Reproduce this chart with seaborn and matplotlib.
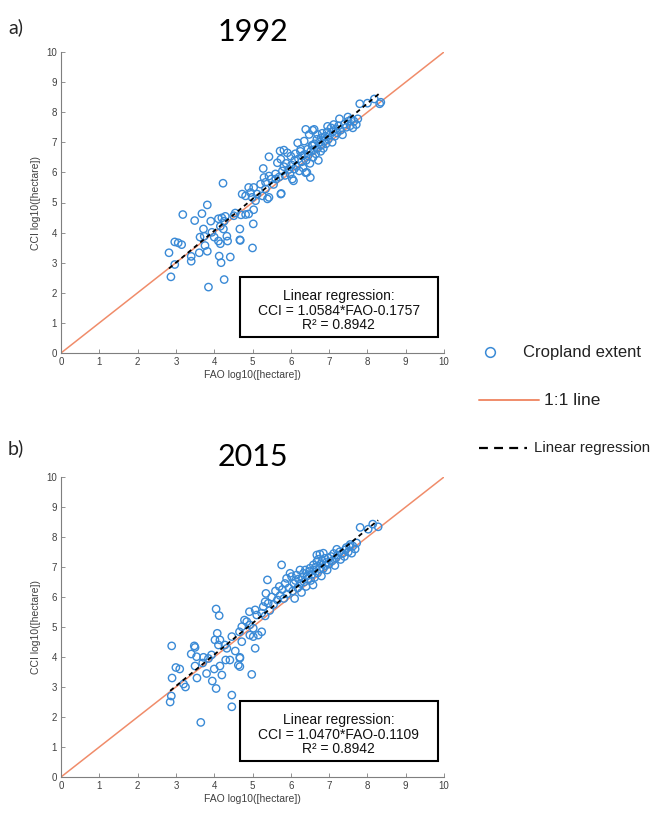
import numpy as np
import pandas as pd
import matplotlib
matplotlib.use("Agg")
import matplotlib.pyplot as plt
from matplotlib.lines import Line2D
from matplotlib.patches import Rectangle
import seaborn as sns

# ---- data: log10 cropland area (hectare), FAO statistics vs CCI land cover ----
fao_1992 = [2.82, 2.87, 2.97, 2.97, 3.06, 3.15, 3.18, 3.40, 3.40, 3.49, 3.61, 3.63, 3.68, 3.72, 3.74,
            3.76, 3.82, 3.82, 3.85, 3.91, 3.94, 4.00, 4.11, 4.11, 4.13, 4.16, 4.16, 4.18, 4.20, 4.23,
            4.24, 4.26, 4.26, 4.29, 4.33, 4.35, 4.42, 4.51, 4.55, 4.67, 4.67, 4.68, 4.70, 4.73, 4.82,
            4.82, 4.90, 4.90, 4.95, 4.99, 5.00, 5.02, 5.03,
            5.03, 5.08, 5.12, 5.21, 5.26, 5.28, 5.30, 5.34, 5.34, 5.39, 5.43, 5.43, 5.43, 5.49, 5.55,
            5.60, 5.61, 5.65, 5.70, 5.72, 5.74, 5.74, 5.75, 5.78, 5.82, 5.82, 5.85, 5.88, 5.91, 5.95,
            5.98,
            6.00, 6.02, 6.04, 6.07, 6.09, 6.10, 6.12, 6.15, 6.18, 6.20, 6.22, 6.25, 6.26, 6.28, 6.30,
            6.32, 6.35, 6.36, 6.39, 6.39, 6.40, 6.42, 6.44, 6.45, 6.48, 6.50, 6.51, 6.52, 6.55, 6.57,
            6.57, 6.58, 6.60, 6.61, 6.62, 6.65, 6.68, 6.70, 6.70, 6.72, 6.75, 6.78, 6.79, 6.80, 6.82,
            6.85, 6.88, 6.90, 6.92, 6.95, 6.96, 6.98,
            7.02, 7.05, 7.08, 7.10, 7.12, 7.15, 7.18, 7.21, 7.25, 7.27, 7.30, 7.35, 7.40, 7.45, 7.49,
            7.50, 7.55, 7.58, 7.62, 7.65, 7.71, 7.75, 7.80, 8.00, 8.18, 8.32, 8.35]
cci_1992 = [3.33, 2.53, 2.94, 3.69, 3.66, 3.60, 4.60, 3.21, 3.05, 4.40, 3.33, 3.85, 4.63, 4.12, 3.88,
            3.57, 3.38, 4.92, 2.19, 4.38, 4.01, 3.85, 3.72, 4.46, 3.22, 3.63, 4.21, 3.00, 4.49, 5.64,
            4.12, 2.44, 4.38, 4.54, 3.88, 3.72, 3.19, 4.56, 4.65, 4.12, 3.76, 3.74, 4.59, 5.28, 4.60,
            5.22, 4.62, 5.50, 5.33, 5.17, 3.49, 4.29, 4.76,
            5.50, 5.06, 5.28, 5.61, 5.22, 6.13, 5.83, 5.67, 5.45, 5.12, 5.17, 5.88, 6.52, 5.78, 5.60,
            5.95, 5.78, 6.32, 5.85, 6.71, 6.44, 5.28, 5.30, 6.05, 6.74, 6.19, 5.90, 6.30, 6.65, 6.10,
            5.95,
            6.54, 6.25, 5.78, 5.72, 6.11, 6.40, 6.62, 6.20, 6.98, 6.45, 6.05, 6.70, 6.77, 6.35, 6.55,
            6.15, 7.04, 6.60, 7.43, 5.99, 6.40, 6.00, 6.77, 6.55, 7.26, 6.30, 5.83, 6.70, 6.90, 6.88,
            7.40, 6.50, 6.75, 7.43, 6.95, 6.62, 7.10, 7.26, 6.80, 6.40, 7.00, 6.70, 7.15, 6.90, 7.30,
            6.80, 7.05, 7.20, 6.95, 7.35, 7.53, 7.10,
            7.25, 7.48, 7.00, 7.35, 7.59, 7.20, 7.45, 7.31, 7.55, 7.78, 7.40, 7.25, 7.60, 7.50, 7.84,
            7.70, 7.55, 7.76, 7.48, 7.70, 7.59, 7.78, 8.28, 8.30, 8.44, 8.28, 8.33]

fao_2015 = [2.85, 2.88, 2.89, 2.90, 3.00, 3.10, 3.20, 3.25, 3.40, 3.48, 3.50, 3.50, 3.54, 3.55, 3.65,
            3.70, 3.72, 3.80, 3.85, 3.93, 3.95, 4.00, 4.02, 4.05, 4.05, 4.08, 4.11, 4.13, 4.15, 4.15,
            4.20, 4.28, 4.30, 4.33, 4.41, 4.46, 4.46, 4.46, 4.55, 4.63, 4.66, 4.67, 4.67, 4.67, 4.72,
            4.72, 4.79, 4.85, 4.92, 4.93, 4.93, 4.98,
            5.02, 5.02, 5.07, 5.07, 5.11, 5.15, 5.24, 5.24, 5.28, 5.33, 5.33, 5.35, 5.39, 5.41, 5.45,
            5.50, 5.55, 5.60, 5.65, 5.70, 5.72, 5.76, 5.78, 5.82, 5.85, 5.89, 5.90, 5.95, 5.98,
            6.02, 6.05, 6.08, 6.10, 6.12, 6.15, 6.18, 6.20, 6.24, 6.25, 6.28, 6.30, 6.33, 6.35, 6.38,
            6.40, 6.42, 6.45, 6.48, 6.50, 6.52, 6.55, 6.58, 6.59, 6.60, 6.62, 6.65, 6.68, 6.68, 6.70,
            6.72, 6.75, 6.76, 6.78, 6.80, 6.82, 6.85, 6.85, 6.89, 6.90, 6.93, 6.95, 6.98,
            7.00, 7.05, 7.08, 7.12, 7.15, 7.18, 7.20, 7.22, 7.28, 7.30, 7.35, 7.40, 7.42, 7.45, 7.50,
            7.53, 7.55, 7.59, 7.62, 7.68, 7.72, 7.81, 8.02, 8.14, 8.28]
cci_2015 = [2.50, 2.70, 4.37, 3.30, 3.65, 3.60, 3.10, 3.00, 4.10, 4.37, 4.32, 3.70, 4.01, 3.30, 1.82,
            3.80, 3.99, 3.45, 3.95, 4.07, 3.20, 3.60, 4.57, 5.60, 2.95, 4.79, 4.40, 5.38, 4.57, 3.70,
            3.40, 4.40, 3.90, 4.29, 3.90, 4.68, 2.73, 2.34, 4.20, 3.73, 4.84, 3.96, 3.68, 3.99, 4.51,
            5.01, 5.23, 5.18, 5.51, 5.07, 4.73, 3.42,
            4.96, 4.68, 5.57, 4.29, 5.40, 4.73, 5.46, 4.84, 5.68, 5.84, 5.37, 6.12, 6.57, 5.79, 5.55,
            6.00, 5.75, 6.20, 5.90, 6.35, 6.05, 7.07, 6.25, 5.95, 6.45, 6.62, 6.10, 6.30, 6.79,
            6.68, 6.20, 6.45, 5.95, 6.55, 6.73, 6.30, 6.60, 6.90, 6.45, 6.15, 6.65, 6.79, 6.50, 6.90,
            6.35, 6.70, 6.60, 6.85, 6.96, 6.55, 6.75, 6.40, 7.07, 6.90, 6.65, 7.00, 7.18, 7.40, 6.80,
            7.26, 6.95, 7.43, 7.10, 6.70, 7.20, 7.46, 6.95, 7.29, 7.05, 7.15, 6.90, 7.30,
            7.10, 7.35, 7.20, 7.45, 7.05, 7.30, 7.59, 7.40, 7.51, 7.25, 7.45, 7.35, 7.57, 7.65, 7.50,
            7.68, 7.75, 7.46, 7.70, 7.60, 7.80, 8.32, 8.26, 8.43, 8.34]

years = ["1992", "2015"]
panel_tags = ["a)", "b)"]
slopes = [1.0584, 1.0470]
intercepts = [-0.1757, -0.1109]
r_squared = [0.8942, 0.8942]
ticks = list(range(0, 11))

sns.set_theme(style="white")
plt.rcParams["font.family"] = ["Liberation Sans", "DejaVu Sans"]

BLUE = "#3a8ad6"
ORANGE = "#f08c6a"
GREY = "#7f7f7f"
TXT = "#404040"

fig = plt.figure(figsize=(6.57, 8.19), dpi=100)
W, H = 657, 819

def px_rect(x0, y0, x1, y1):
    return [x0 / W, 1 - y1 / H, (x1 - x0) / W, (y1 - y0) / H]

axes = [fig.add_axes(px_rect(61, 52, 444, 353)),
        fig.add_axes(px_rect(61, 477, 444, 777))]

datasets = [(fao_1992, cci_1992), (fao_2015, cci_2015)]

for i, ax in enumerate(axes):
    fao, cci = datasets[i]
    df = pd.DataFrame({"FAO": fao, "CCI": cci})

    # 1:1 reference
    ax.axline((0, 0), slope=1, color=ORANGE, lw=1.1, zorder=1)

    sns.scatterplot(data=df, x="FAO", y="CCI", ax=ax, marker="o", s=28,
                    facecolors="none", edgecolor=BLUE, linewidth=1.0, zorder=2)

    # fitted regression line
    xr = np.array([min(fao), max(fao)])
    ax.plot(xr, slopes[i] * xr + intercepts[i], color="black", lw=1.3,
            linestyle=(0, (2.5, 2.0)), zorder=3)

    ax.set_xlim(0, 10)
    ax.set_ylim(0, 10)
    ax.set_xticks(ticks)
    ax.set_yticks(ticks)
    ax.tick_params(axis="both", direction="in", length=3, width=0.6, color=GREY,
                   labelsize=7, labelcolor=TXT, pad=3,
                   bottom=True, left=True, top=False, right=False)
    for side in ["top", "right"]:
        ax.spines[side].set_visible(False)
    for side in ["left", "bottom"]:
        ax.spines[side].set_color(GREY)
        ax.spines[side].set_linewidth(0.8)
    ax.set_xlabel("FAO log10([hectare])", fontsize=7.5, color=TXT, labelpad=2)
    ax.set_ylabel("CCI log10([hectare])", fontsize=7.5, color=TXT, labelpad=4)
    ax.set_title(years[i], fontsize=22, family=["Lato", "DejaVu Sans"],
                 color="black", pad=8)

    # regression summary box
    ax.add_patch(Rectangle((4.67, 0.53), 5.17, 1.99, facecolor="white",
                           edgecolor="black", linewidth=1.5, zorder=5))
    lines = ["Linear regression:",
             f"CCI = {slopes[i]:.4f}*FAO{intercepts[i]:+.4f}",
             f"R\u00b2 = {r_squared[i]:.4f}"]
    for text, yy in zip(lines, [1.90, 1.41, 0.94]):
        ax.text(7.25, yy, text, ha="center", va="center", fontsize=10,
                color="#111111", zorder=6)

# panel tags
fig.text(8 / W, 1 - 27 / H, panel_tags[0], fontsize=14, ha="left", va="center",
         family=["Lato", "DejaVu Sans"])
fig.text(8 / W, 1 - 448 / H, panel_tags[1], fontsize=14, ha="left", va="center",
         family=["Lato", "DejaVu Sans"])

# legend drawn in figure space
fig.add_artist(Line2D([490 / W], [1 - 352 / H], marker="o", markersize=7,
                      markerfacecolor="none", markeredgecolor=BLUE,
                      markeredgewidth=1.1, linestyle="none",
                      transform=fig.transFigure))
fig.text(523 / W, 1 - 352 / H, "Cropland extent", fontsize=12, va="center",
         ha="left", color="#222222")
fig.add_artist(Line2D([479 / W, 539 / W], [1 - 400 / H, 1 - 400 / H],
                      color=ORANGE, lw=1.4, transform=fig.transFigure))
fig.text(544 / W, 1 - 400 / H, "1:1 line", fontsize=12.5, va="center",
         ha="left", color="#222222")
fig.add_artist(Line2D([479 / W, 527 / W], [1 - 448 / H, 1 - 448 / H],
                      color="black", lw=1.6, linestyle=(0, (4, 2.8)),
                      transform=fig.transFigure))
fig.text(534 / W, 1 - 448 / H, "Linear regression", fontsize=10.8, va="center",
         ha="left", color="#222222")

fig.savefig("out.png", dpi=100)
